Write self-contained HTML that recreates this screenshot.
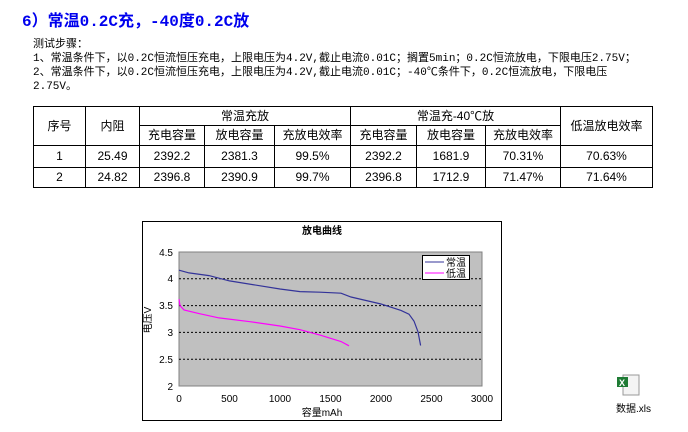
<!DOCTYPE html>
<html><head><meta charset="utf-8"><style>
body{margin:0;width:688px;height:432px;background:#fff;position:relative;font-family:"Liberation Mono","Noto Sans CJK SC",monospace;overflow:hidden}
.t{position:absolute;white-space:nowrap}
table{position:absolute;left:33px;top:106px;border-collapse:collapse;font-size:12px;font-family:"Liberation Sans","Noto Sans CJK SC",sans-serif}
td{border:1px solid #000;text-align:center;padding:0;line-height:13px}
</style></head><body>
<div class="t" style="left:22px;top:7px;font-size:16px;font-weight:bold;color:#0000ee;font-family:'Liberation Mono','Noto Sans CJK SC',monospace">6）常温0.2C充，-40度0.2C放</div>
<div class="t" style="left:33px;top:38px;font-size:11px;line-height:14px">测试步骤：<br>1、常温条件下，以0.2C恒流恒压充电，上限电压为4.2V,截止电流0.01C；搁置5min；0.2C恒流放电，下限电压2.75V；<br>2、常温条件下，以0.2C恒流恒压充电，上限电压为4.2V,截止电流0.01C；-40℃条件下，0.2C恒流放电，下限电压<br>2.75V。</div>
<table>
<colgroup><col style="width:52px"><col style="width:54px"><col style="width:65px"><col style="width:70px"><col style="width:76px"><col style="width:66px"><col style="width:69px"><col style="width:75px"><col style="width:92px"></colgroup>
<tr style="height:19px"><td rowspan="2">序号</td><td rowspan="2">内阻</td><td colspan="3">常温充放</td><td colspan="3">常温充-40℃放</td><td rowspan="2">低温放电效率</td></tr>
<tr style="height:20px"><td>充电容量</td><td>放电容量</td><td>充放电效率</td><td>充电容量</td><td>放电容量</td><td>充放电效率</td></tr>
<tr style="height:22px"><td>1</td><td>25.49</td><td>2392.2</td><td>2381.3</td><td>99.5%</td><td>2392.2</td><td>1681.9</td><td>70.31%</td><td>70.63%</td></tr>
<tr style="height:20px"><td>2</td><td>24.82</td><td>2396.8</td><td>2390.9</td><td>99.7%</td><td>2396.8</td><td>1712.9</td><td>71.47%</td><td>71.64%</td></tr>
</table>
<svg style="position:absolute;left:0;top:0" width="688" height="432" font-family="Liberation Sans,Noto Sans CJK SC,sans-serif">
<rect x="142.5" y="221.5" width="359" height="199" fill="#fff" stroke="#000"/>
<text x="322" y="234" font-size="10" font-weight="bold" text-anchor="middle">放电曲线</text>
<rect x="179" y="252" width="303" height="134" fill="#c0c0c0" stroke="#808080"/>
<g stroke="#000" stroke-dasharray="2,2" stroke-width="1">
<line x1="179" x2="482" y1="278.8" y2="278.8"/><line x1="179" x2="482" y1="305.6" y2="305.6"/><line x1="179" x2="482" y1="332.4" y2="332.4"/><line x1="179" x2="482" y1="359.2" y2="359.2"/></g>
<g font-size="10" fill="#000" text-anchor="end">
<text x="173" y="256">4.5</text><text x="173" y="282">4</text><text x="173" y="309">3.5</text><text x="173" y="336">3</text><text x="173" y="363">2.5</text><text x="173" y="390">2</text></g>
<g font-size="10" text-anchor="middle">
<text x="179" y="402">0</text><text x="229.5" y="402">500</text><text x="280" y="402">1000</text><text x="330.5" y="402">1500</text><text x="381" y="402">2000</text><text x="431.5" y="402">2500</text><text x="482" y="402">3000</text></g>
<text x="322" y="416" font-size="10" text-anchor="middle">容量mAh</text>
<text transform="translate(151,320) rotate(-90)" font-size="10" text-anchor="middle">电压V</text>
<polyline fill="none" stroke="#333399" stroke-width="1.2" points="179,270.2 189,272.9 209,275.6 229.5,280.9 280,289 300,291.6 320,292.2 341,293.2 351,297 381,304 401,310.4 409,314.2 414,321.1 418,331.8 420.6,345.5"/>
<polyline fill="none" stroke="#ff00ff" stroke-width="1.2" points="179,299.2 180,305.6 184,309.9 199,313.6 219,317.9 250,321.7 280,326 300,329.7 320,335.1 341,341.5 349,345.8"/>
<rect x="422.5" y="255.5" width="47" height="24" fill="#fff" stroke="#000"/>
<line x1="425" x2="444" y1="262" y2="262" stroke="#333399"/><text x="446" y="266" font-size="10">常温</text>
<line x1="425" x2="444" y1="273" y2="273" stroke="#ff00ff"/><text x="446" y="277" font-size="10">低温</text>
<rect x="623" y="375" width="16" height="20" fill="#f4f4f4" stroke="#999"/>
<rect x="617" y="377" width="11" height="10" fill="#1e7b34"/><text x="619" y="386" font-size="9" fill="#fff" font-weight="bold">X</text>
<text x="616" y="412" font-size="10">数据.xls</text>
</svg>
</body></html>
